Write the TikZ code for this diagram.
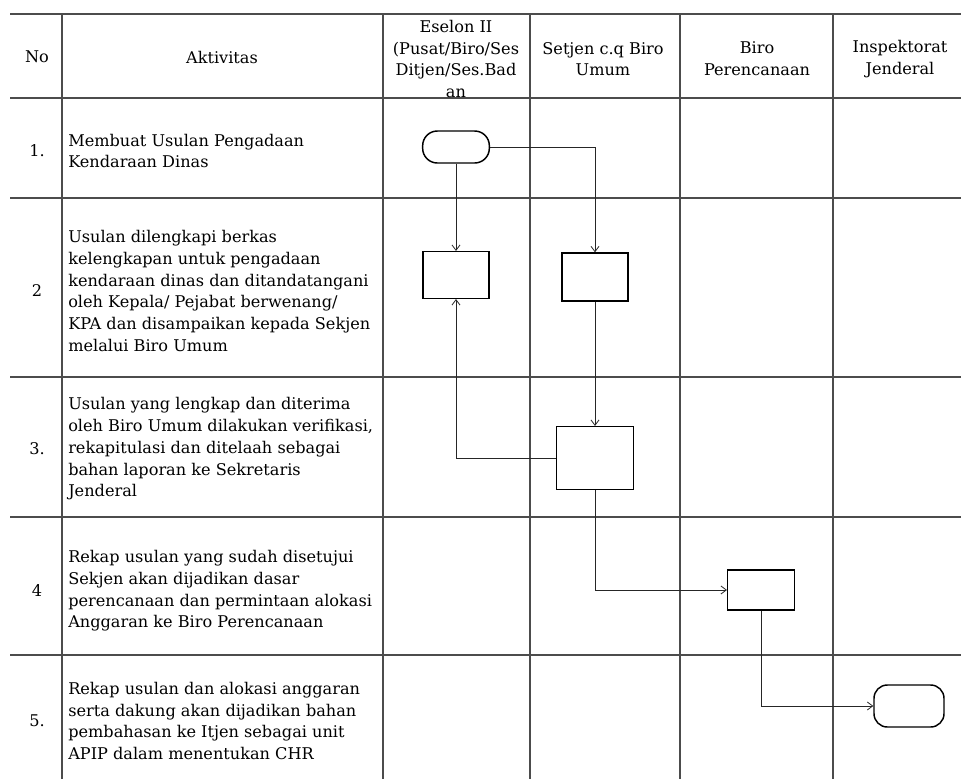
\documentclass[tikz,border=0pt]{standalone}
\usepackage{fontspec}
\setmainfont{DejaVu Serif}
\usetikzlibrary{arrows.meta,positioning}

\begin{document}
\begin{tikzpicture}[x=0.75pt,y=-0.75pt,
  font=\fontsize{12.1}{16.3}\selectfont,
  grid/.style={draw=black!70,line width=0.9pt},
  act/.style={anchor=west,align=left,inner sep=0pt},
  hdr/.style={align=center,inner sep=0pt},
  proc/.style={draw=black,line width=1.1pt,inner sep=0pt},
  term/.style={draw=black,line width=1.1pt,rounded corners=11pt,inner sep=0pt},
  ar/.style={-{Straight Barb[length=4pt,width=6pt]},draw=black!85,line width=0.6pt}
]
\useasboundingbox (0,0) rectangle (961,779);

% table
\foreach \y in {14,98,198,377,517,655}{\draw[grid] (10,\y) -- (961,\y);}
\foreach \x in {62,383,530,833}{\draw[grid] (\x,14) -- (\x,779);}
\draw[grid,line width=1.6pt] (680,14) -- (680,779);

% header
\node[hdr] (hno) at (37,57) {No};
\node[hdr] (hakt) at (222,57) {Aktivitas};
\node[hdr] (hes) at (456,59) {Eselon II\\(Pusat/Biro/Ses\\Ditjen/Ses.Bad\\an};
\node[hdr] (hsj) at (603,59) {Setjen c.q Biro\\Umum};
\node[hdr] (hbp) at (757,59) {Biro\\Perencanaan};
\node[hdr] (hij) at (900,59) {Inspektorat\\Jenderal};

% nomor
\node[hdr] (n1) at (37,151) {1.};
\node[hdr] (n2) at (37,291) {2};
\node[hdr] (n3) at (37,449) {3.};
\node[hdr] (n4) at (37,591) {4};
\node[hdr] (n5) at (37,721) {5.};

% aktivitas
\node[act] (a1) at (68,151) {Membuat Usulan Pengadaan\\Kendaraan Dinas};
\node[act] (a2) at (68,291) {Usulan dilengkapi berkas\\kelengkapan untuk pengadaan\\kendaraan dinas dan ditandatangani\\oleh Kepala/ Pejabat berwenang/\\KPA dan disampaikan kepada Sekjen\\melalui Biro Umum};
\node[act] (a3) at (68,449) {Usulan yang lengkap dan diterima\\oleh Biro Umum dilakukan verifikasi,\\rekapitulasi dan ditelaah sebagai\\bahan laporan ke Sekretaris\\Jenderal};
\node[act] (a4) at (68,591) {Rekap usulan yang sudah disetujui\\Sekjen akan dijadikan dasar\\perencanaan dan permintaan alokasi\\Anggaran ke Biro Perencanaan};
\node[act] (a5) at (68,721) {Rekap usulan dan alokasi anggaran\\serta dakung akan dijadikan bahan\\pembahasan ke Itjen sebagai unit\\APIP dalam menentukan CHR};

% simbol alur
\node[term,minimum width=50pt,minimum height=24pt] (t1) at (456,147) {};
\node[proc,minimum width=49.5pt,minimum height=35pt] (b2a) at (456,275) {};
\node[proc,minimum width=49.5pt,minimum height=36pt] (b2b) at (595,277) {};
\node[proc,minimum width=57.75pt,minimum height=47pt] (b3) at (595,458) {};
\node[proc,minimum width=50pt,minimum height=30pt] (b4) at (761,590) {};
\node[term,rounded corners=10pt,minimum width=52.5pt,minimum height=31.5pt] (t5) at (909,706) {};

\draw[ar] (t1) -- (b2a);
\draw[ar] (t1.east) -| (b2b);
\draw[ar] (b2b) -- (b3);
\draw[ar] (b3.west) -| (b2a.south);
\draw[ar] (b3.south) |- (b4.west);
\draw[ar] (b4.south) |- (t5.west);
\end{tikzpicture}
\end{document}
